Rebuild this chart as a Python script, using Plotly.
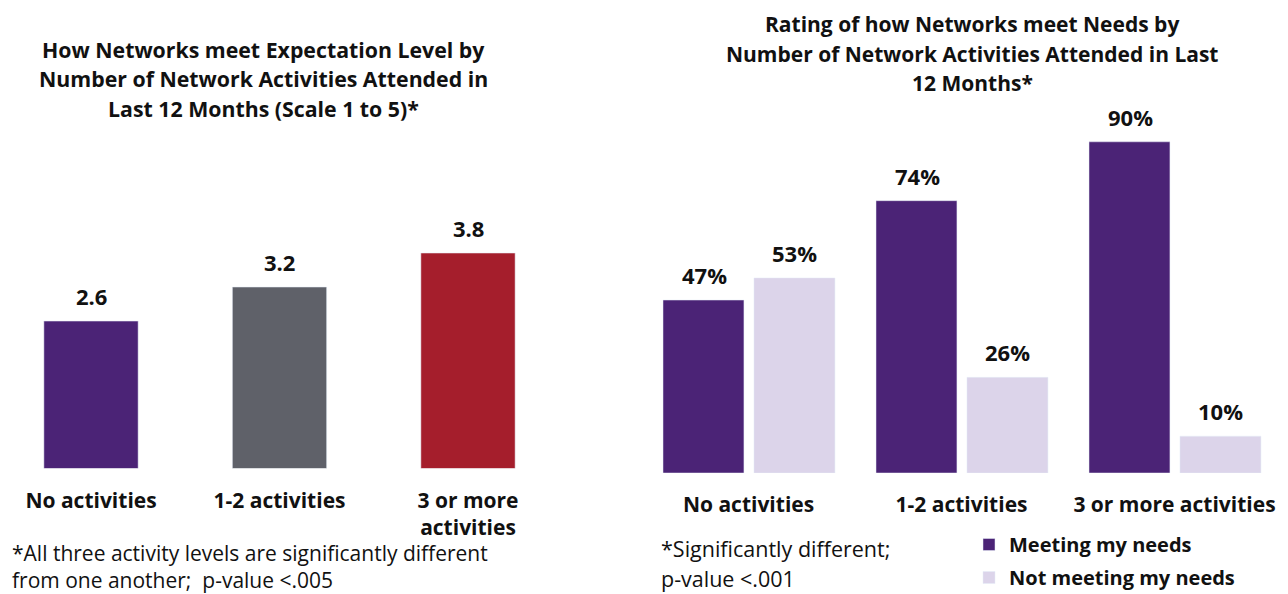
import plotly.graph_objects as go

W, H = 1288, 594

# ---- data ----
left_categories = ["No activities", "1-2 activities", "3 or more<br>activities"]
left_values = [2.6, 3.2, 3.8]
left_labels = ["2.6", "3.2", "3.8"]
left_colors = ["#4B2376", "#5F6169", "#A51E2C"]

right_categories = ["No activities", "1-2 activities", "3 or more activities"]
meeting = [47, 74, 90]
not_meeting = [53, 26, 10]

left_title = ["How Networks meet Expectation Level by",
              "Number of Network Activities Attended in",
              "Last 12 Months (Scale 1 to 5)*"]
right_title = ["Rating of how Networks meet Needs by",
               "Number of Network Activities Attended in Last",
               "12 Months*"]
left_note = ["*All three activity levels are significantly different",
             "from one another;  p-value <.005"]
right_note = ["*Significantly different;", "p-value <.001"]

PURPLE = "#4B2376"
LAVENDER = "#DCD4EA"
FONT = "Open Sans"


def px_x(p):
    return p / W


def px_y(p):
    return 1 - p / H


fig = go.Figure()

fig.add_trace(go.Bar(
    x=left_categories, y=left_values, marker=dict(color=left_colors),
    width=0.5, xaxis="x", yaxis="y", showlegend=False, hoverinfo="skip"))

fig.add_trace(go.Bar(
    x=right_categories, y=meeting, name="<b>Meeting my needs</b>",
    marker=dict(color=PURPLE), width=0.38, offset=-0.4014,
    xaxis="x2", yaxis="y2", legendgroup="a"))
fig.add_trace(go.Bar(
    x=right_categories, y=not_meeting, name="<b>Not meeting my needs</b>",
    marker=dict(color=LAVENDER), width=0.38, offset=0.0258,
    xaxis="x2", yaxis="y2", legendgroup="b"))

annotations = []
for c, v, t in zip(left_categories, left_values, left_labels):
    annotations.append(dict(x=c, y=v, xref="x", yref="y", text=f"<b>{t}</b>",
                            showarrow=False, yanchor="middle", yshift=25,
                            font=dict(size=22, color="#111")))
for i, c in enumerate(right_categories):
    annotations.append(dict(x=c, y=meeting[i], xref="x2", yref="y2",
                            text=f"<b>{meeting[i]}%</b>", showarrow=False,
                            yanchor="middle", yshift=25, xshift=-44,
                            font=dict(size=22, color="#111")))
    annotations.append(dict(x=c, y=not_meeting[i], xref="x2", yref="y2",
                            text=f"<b>{not_meeting[i]}%</b>", showarrow=False,
                            yanchor="middle", yshift=25, xshift=46,
                            font=dict(size=22, color="#111")))

for k, line in enumerate(left_title):
    annotations.append(dict(x=px_x(263), y=px_y(49 + 29.5 * k), xref="paper", yref="paper",
                            text=f"<b>{line}</b>", showarrow=False,
                            xanchor="center", yanchor="middle",
                            font=dict(size=21.3, color="#111")))
for k, line in enumerate(right_title):
    annotations.append(dict(x=px_x(972), y=px_y(24 + 29.5 * k), xref="paper", yref="paper",
                            text=f"<b>{line}</b>", showarrow=False,
                            xanchor="center", yanchor="middle",
                            font=dict(size=21, color="#111")))
for k, line in enumerate(left_note):
    annotations.append(dict(x=px_x(10), y=px_y(552.5 + 27.5 * k), xref="paper", yref="paper",
                            text=line, showarrow=False,
                            xanchor="left", yanchor="middle",
                            font=dict(size=21, color="#111")))
for k, line in enumerate(right_note):
    annotations.append(dict(x=px_x(659), y=px_y(548 + 30 * k), xref="paper", yref="paper",
                            text=line, showarrow=False,
                            xanchor="left", yanchor="middle",
                            font=dict(size=21.5, color="#111")))

fig.update_layout(
    width=W, height=H,
    margin=dict(l=0, r=0, t=0, b=0, pad=0, autoexpand=False),
    paper_bgcolor="white", plot_bgcolor="white",
    font=dict(family=FONT, color="#111"),
    barmode="overlay",
    showlegend=True,
    legend=dict(x=px_x(969), y=px_y(525), xanchor="left", yanchor="top",
                font=dict(size=20, color="#111", family=FONT),
                traceorder="grouped", tracegroupgap=4,
                bgcolor="rgba(0,0,0,0)", itemclick=False),
    annotations=annotations,
    xaxis=dict(domain=[0, 0.5], range=[-0.4828, 2.9337], type="category",
               showgrid=False, zeroline=False, showline=False, ticks="",
               automargin=False,
               tickvals=left_categories,
               ticktext=[f"<b>{c}</b>" for c in left_categories],
               tickfont=dict(size=21, family=FONT, color="#111"),
               ticklabelstandoff=17),
    yaxis=dict(domain=[px_y(468.5), px_y(185)], range=[0, 5],
               visible=False, automargin=False),
    xaxis2=dict(domain=[0.5, 1], range=[-0.4906, 2.5329], type="category",
                showgrid=False, zeroline=False, showline=False, ticks="",
                automargin=False,
                tickvals=right_categories,
                ticktext=[f"<b>{c}</b>" for c in right_categories],
                tickfont=dict(size=21, family=FONT, color="#111"),
                ticklabelstandoff=17, anchor="y2"),
    yaxis2=dict(domain=[px_y(473), px_y(105)], range=[0, 100],
                visible=False, anchor="x2", automargin=False),
)

fix_page = (
    "var d=document.documentElement,b=document.body;"
    "d.style.margin='0';d.style.padding='0';d.style.overflow='hidden';"
    "b.style.margin='0';b.style.padding='0';b.style.overflow='hidden';"
)

fig.write_html("out.html",
               config={"displayModeBar": False, "staticPlot": True},
               post_script=fix_page)
